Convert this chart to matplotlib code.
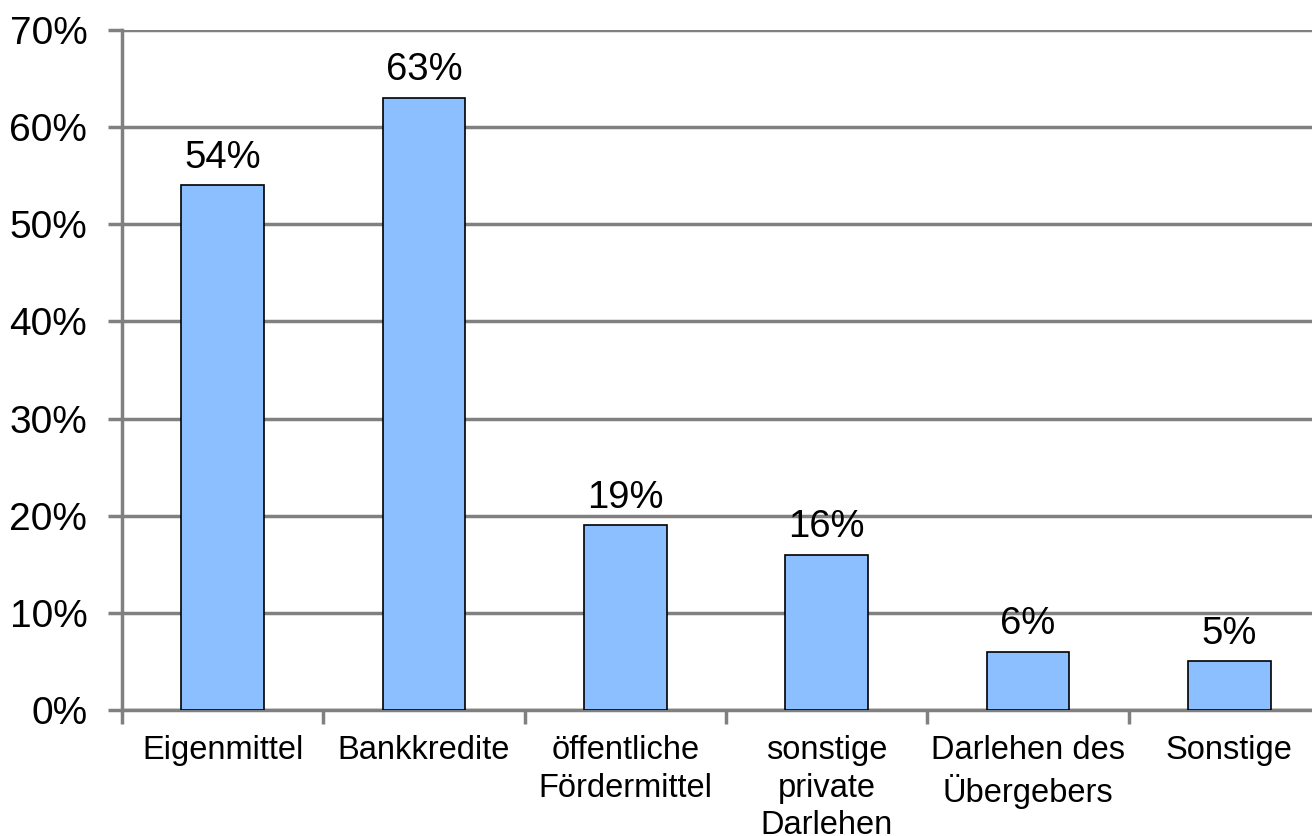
import matplotlib.pyplot as plt
from matplotlib.ticker import PercentFormatter

plt.rcParams['font.family'] = ['Liberation Sans', 'DejaVu Sans']

categories = ["Eigenmittel", "Bankkredite", "öffentliche\nFördermittel",
              "sonstige\nprivate\nDarlehen", "Darlehen des\nÜbergebers", "Sonstige"]
values = [54, 63, 19, 16, 6, 5]

fig = plt.figure(figsize=(13.12, 8.36), dpi=100)
ax = fig.add_axes([122 / 1312, 126 / 836, 1 - 122 / 1312, 680 / 836])

x = list(range(len(categories)))
bars = ax.bar(x, values, width=0.41, color="#8bbfff", edgecolor="black",
              linewidth=1.2, zorder=3)

for b, v in zip(bars, values):
    ax.annotate(f"{v}%", (b.get_x() + b.get_width() / 2, v), xytext=(0, 7),
                textcoords="offset points", ha="center", va="bottom", fontsize=27.5)

ax.set_yticks(range(0, 71, 10))
ax.yaxis.set_major_formatter(PercentFormatter(decimals=0))
ax.grid(axis="y", color="#808080", linewidth=2.5, zorder=0)
ax.set_axisbelow(True)

ax.set_xticks(x)
ax.set_xticklabels(categories, fontsize=23.5, linespacing=1.28)
ax.set_xticks([i - 0.5 for i in range(len(categories) + 1)], minor=True)
ax.set_ylim(0, 70)
ax.set_xlim(-0.5, 5.41)
ax.tick_params(axis="x", which="major", length=0, pad=18)
ax.tick_params(axis="x", which="minor", length=10, width=2.5, color="#808080")
ax.tick_params(axis="y", length=10, width=2.5, color="#808080", labelsize=28, pad=15)

for s in ["top", "right"]:
    ax.spines[s].set_visible(False)
for s in ["left", "bottom"]:
    ax.spines[s].set_color("#808080")
    ax.spines[s].set_linewidth(2.5)

fig.savefig("out.png", dpi=100)
